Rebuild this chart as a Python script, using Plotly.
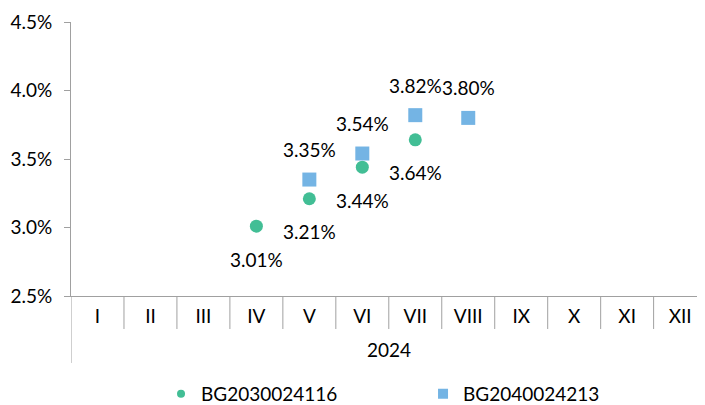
import plotly.graph_objects as go

months = ["I", "II", "III", "IV", "V", "VI", "VII", "VIII", "IX", "X", "XI", "XII"]
year_label = "2024"

s1_name = "BG2030024116"
s1_months = ["IV", "V", "VI", "VII"]
s1_values = [3.01, 3.21, 3.44, 3.64]

s2_name = "BG2040024213"
s2_months = ["V", "VI", "VII", "VIII"]
s2_values = [3.35, 3.54, 3.82, 3.80]

y_ticks = [2.5, 3.0, 3.5, 4.0, 4.5]
y_tick_text = ["2.5%", "3.0%", "3.5%", "4.0%", "4.5%"]

GREEN = "#42be95"
BLUE = "#74b4e4"
GRAY = "#a0a0a0"
FONT = "Lato"
FS = 19

fig = go.Figure()
fig.add_trace(go.Scatter(x=s1_months, y=s1_values, mode="markers", showlegend=False,
                         marker=dict(symbol="circle", size=13, color=GREEN)))
fig.add_trace(go.Scatter(x=s2_months, y=s2_values, mode="markers", showlegend=False,
                         marker=dict(symbol="square", size=14, color=BLUE)))
# legend-only entries (smaller legend symbols)
fig.add_trace(go.Scatter(x=[None], y=[None], mode="markers", name=s1_name,
                         marker=dict(symbol="circle", size=8, color=GREEN)))
fig.add_trace(go.Scatter(x=[None], y=[None], mode="markers", name=s2_name,
                         marker=dict(symbol="square", size=10, color=BLUE)))

annotations = []
for m, v in zip(s1_months, s1_values):
    annotations.append(dict(x=m, y=v, text=f"{v:.2f}%", showarrow=False, yshift=-33,
                            font=dict(family=FONT, size=FS, color="black")))
for m, v in zip(s2_months, s2_values):
    annotations.append(dict(x=m, y=v, text=f"{v:.2f}%", showarrow=False, yshift=30,
                            font=dict(family=FONT, size=FS, color="black")))
annotations.append(dict(x=(len(months) - 1) / 2, xref="x", y=-0.195, yref="paper",
                        text=year_label, showarrow=False, yanchor="middle",
                        font=dict(family=FONT, size=FS, color="black")))

shapes = []
for i in range(1, len(months)):
    shapes.append(dict(type="line", xref="x", yref="paper", x0=i - 0.5, x1=i - 0.5,
                       y0=0, y1=-0.1204, line=dict(color=GRAY, width=1)))
shapes.append(dict(type="line", xref="x", yref="paper", x0=-0.5, x1=-0.5,
                   y0=0, y1=-0.2445, line=dict(color=GRAY, width=1)))

# page body adds an 8px offset, so the figure is 8px smaller than the window
fig.update_layout(
    width=697, height=397,
    margin=dict(l=63, r=0, t=14, b=109, autoexpand=False),
    plot_bgcolor="white", paper_bgcolor="white",
    font=dict(family=FONT, size=FS, color="black"),
    xaxis=dict(type="category", categoryorder="array", categoryarray=months,
               range=[-0.5, 11.47], showgrid=False, zeroline=False,
               showline=True, linecolor=GRAY, linewidth=1, ticks="",
               tickfont=dict(family=FONT, size=FS, color="black"),
               ticklabelstandoff=3, automargin=False),
    yaxis=dict(range=[2.5, 4.5], tickmode="array", tickvals=y_ticks, ticktext=y_tick_text,
               showgrid=False, zeroline=False, showline=True, linecolor=GRAY,
               linewidth=1, ticks="outside", ticklen=6, tickcolor=GRAY,
               tickfont=dict(family=FONT, size=FS, color="black"),
               ticklabelstandoff=8, automargin=False),
    legend=dict(orientation="h", x=0.142, xanchor="left", y=-0.357, yanchor="middle",
                entrywidth=217, font=dict(family=FONT, size=FS, color="black"),
                bgcolor="rgba(0,0,0,0)", borderwidth=0, tracegroupgap=0),
    annotations=annotations,
    shapes=shapes,
)

fig.write_html("out.html")
